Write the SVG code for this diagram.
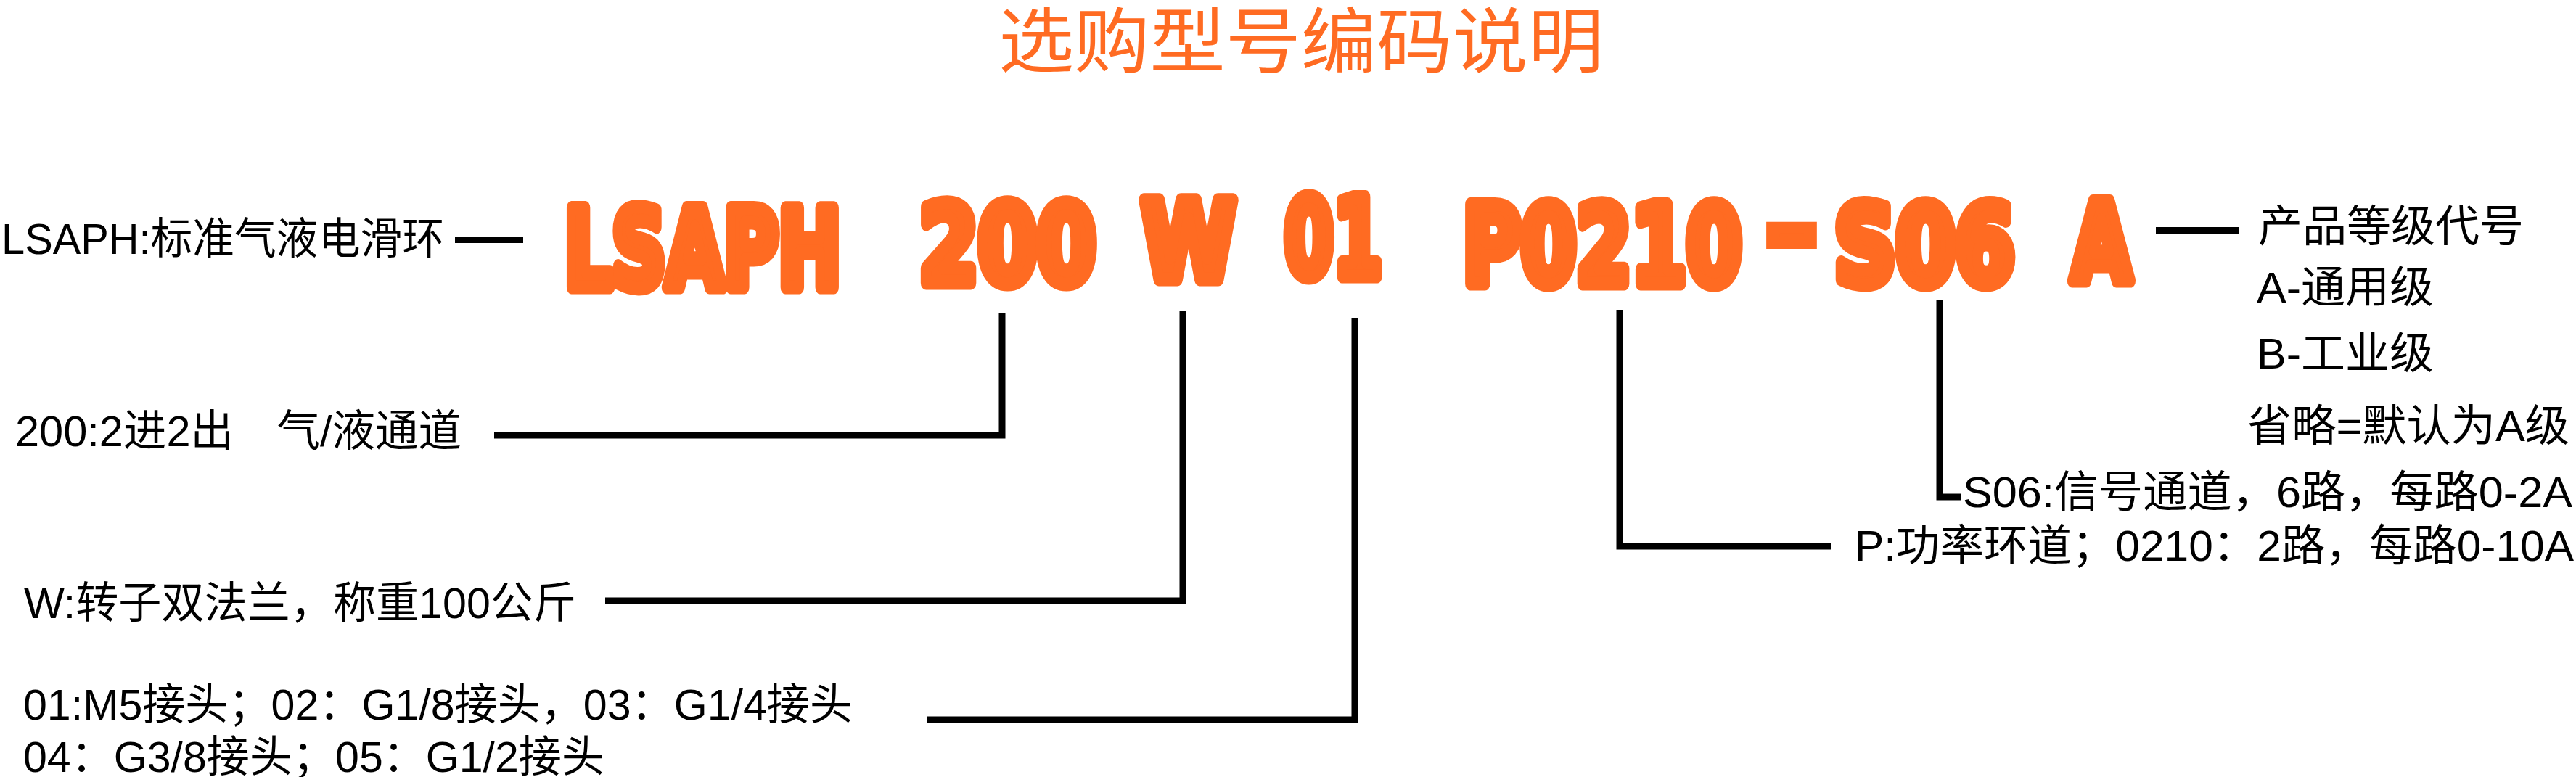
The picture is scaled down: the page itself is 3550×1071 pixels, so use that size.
<svg xmlns="http://www.w3.org/2000/svg" width="3550" height="1071" viewBox="0 0 3550 1071">
<style>
.title{font-family:"Noto Sans CJK SC","Noto Sans CJK TC",sans-serif;font-size:98px;fill:#FF6B22}
.code{font-family:"DejaVu Sans","Liberation Sans",sans-serif;font-weight:bold;font-size:150px;fill:#FF6B22;stroke:#FF6B22;stroke-width:16;stroke-linejoin:round;vector-effect:non-scaling-stroke}
.lbl{font-family:"Liberation Sans Narrow","Liberation Sans","Noto Sans CJK SC",sans-serif;font-size:60px;fill:#000}
.lbr{font-family:"Liberation Sans","Noto Sans CJK SC",sans-serif;font-size:60px;fill:#000}
.conn{fill:none;stroke:#000;stroke-width:9;stroke-linejoin:miter;stroke-linecap:butt}
</style>
<rect width="3550" height="1071" fill="#fff"/>
<g id="title"><text class="title" x="1376" y="92" textLength="834" lengthAdjust="spacingAndGlyphs">选购型号编码说明</text></g>

<g id="code-LSAPH"><text class="code" transform="translate(778 396) scale(0.65 1)" textLength="586" lengthAdjust="spacingAndGlyphs">LSAPH</text></g>
<g id="code-200"><text class="code" transform="translate(1267 390) scale(0.65 1)" textLength="374" lengthAdjust="spacingAndGlyphs">200</text></g>
<g id="code-W"><text class="code" transform="translate(1573 385) scale(0.65 1)" textLength="200" lengthAdjust="spacingAndGlyphs">W</text></g>
<g id="code-01"><text class="code" transform="translate(1770 381) scale(0.65 1)" textLength="208" lengthAdjust="spacingAndGlyphs">01</text></g>
<g id="code-P0210"><text class="code" transform="translate(2016 391) scale(0.65 1)" textLength="591" lengthAdjust="spacingAndGlyphs">P0210</text></g>
<g id="code-dash"><text class="code" transform="translate(2434 368)" textLength="70" lengthAdjust="spacingAndGlyphs" style="stroke-linejoin:miter">-</text></g>
<g id="code-S06"><text class="code" transform="translate(2528 391) scale(0.65 1)" textLength="382" lengthAdjust="spacingAndGlyphs">S06</text></g>
<g id="code-A"><text class="code" transform="translate(2855 387) scale(0.65 1)" textLength="126" lengthAdjust="spacingAndGlyphs">A</text></g>

<g id="desc-LSAPH"><text class="lbl" x="2" y="350" textLength="610" lengthAdjust="spacingAndGlyphs">LSAPH:标准气液电滑环</text></g>
<g id="desc-200"><text class="lbl" x="21" y="615" textLength="615" lengthAdjust="spacingAndGlyphs">200:2进2出　气/液通道</text></g>
<g id="desc-W"><text class="lbl" x="33" y="852" textLength="761" lengthAdjust="spacingAndGlyphs">W:转子双法兰，称重100公斤</text></g>
<g id="desc-01">
<text class="lbl" x="32" y="992" textLength="1143" lengthAdjust="spacingAndGlyphs">01:M5接头；02：G1/8接头，03：G1/4接头</text>
<text class="lbl" x="32" y="1064" textLength="801" lengthAdjust="spacingAndGlyphs">04：G3/8接头；05：G1/2接头</text>
</g>
<g id="desc-P0210"><text class="lbl" x="2556" y="773" textLength="991" lengthAdjust="spacingAndGlyphs">P:功率环道；0210：2路，每路0-10A</text></g>
<g id="desc-S06"><text class="lbl" x="2705" y="699" textLength="840" lengthAdjust="spacingAndGlyphs">S06:信号通道，6路，每路0-2A</text></g>
<g id="desc-A">
<text class="lbr" x="3112" y="333" textLength="366" lengthAdjust="spacingAndGlyphs">产品等级代号</text>
<text class="lbr" x="3110" y="417" textLength="244" lengthAdjust="spacingAndGlyphs">A-通用级</text>
<text class="lbr" x="3110" y="508" textLength="244" lengthAdjust="spacingAndGlyphs">B-工业级</text>
<text class="lbr" x="3097" y="608" textLength="444" lengthAdjust="spacingAndGlyphs">省略=默认为A级</text>
</g>

<g id="connectors">
<path class="conn" d="M627 330.5 H721"/>
<path class="conn" d="M2971 317.5 H3086"/>
<path class="conn" d="M681 600 H1381 V431"/>
<path class="conn" d="M834 828 H1630 V428"/>
<path class="conn" d="M1278 992 H1867 V439"/>
<path class="conn" d="M2523 753 H2232 V427"/>
<path class="conn" d="M2702 685 H2673 V414"/>
</g>
</svg>
